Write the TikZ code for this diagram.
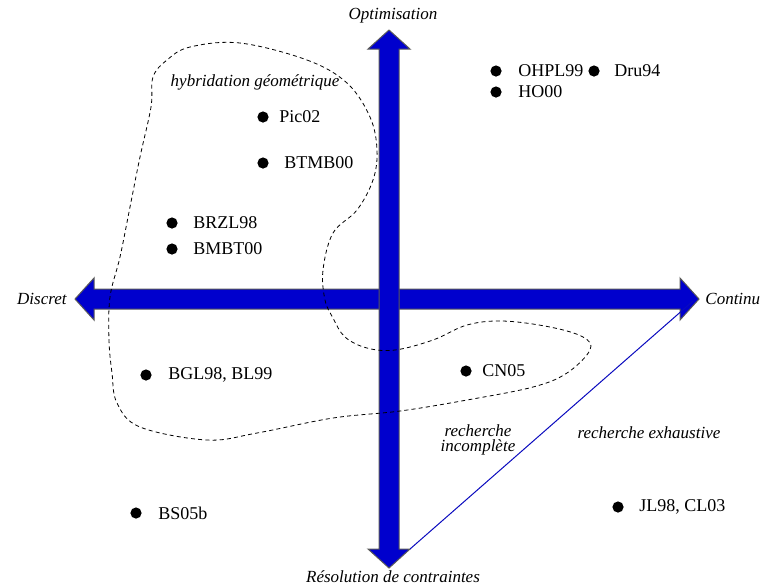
\documentclass[tikz,border=0pt]{standalone}
\usepackage{fontspec}
\setmainfont{Liberation Serif}
\usetikzlibrary{positioning}
\definecolor{axisblue}{RGB}{0,0,205}
\definecolor{lineblue}{RGB}{10,10,190}
\tikzset{
  axis/.style={draw=black!65, line width=0.5pt, fill=axisblue, line join=miter},
  pt/.style={circle, fill=black, inner sep=0pt, minimum size=5.6pt},
  lbl/.style={inner sep=0pt, font=\fontsize{9}{11}\selectfont},
  pole/.style={inner sep=0pt, font=\fontsize{8.5}{7.5}\selectfont\itshape, align=center},
  zone/.style={dash pattern=on 2pt off 1.6pt, line width=0.4pt}
}

\begin{document}
\begin{tikzpicture}[x=0.5pt,y=-0.5pt]
    \useasboundingbox (0,0) rectangle (763,586);

    % Horizontal axis: discret <-> continu.
    \draw[axis] (75,299) -- (94,278) -- (94,289) -- (680,289) -- (680,278)
        -- (699,299) -- (680,320) -- (680,309) -- (94,309) -- (94,320) -- cycle;

    % Vertical axis: optimisation <-> resolution de contraintes.
    \draw[axis] (389,30) -- (410,49) -- (399,49) -- (399,549) -- (410,549)
        -- (389,568) -- (368,549) -- (379,549) -- (379,49) -- (368,49) -- cycle;
    \coordinate (split) at (410,549);
    \coordinate (cont) at (693,301);

    % Axis names.
    \node[pole] (opt) at (393,16) {Optimisation};
    \node[pole, anchor=east] (disc) at (67,299) {Discret};
    \node[pole, anchor=west] (contl) at (705,299) {Continu};
    \node[pole] (res) at (393,577) {Résolution de contraintes};

    % Border between the two kinds of search.
    \draw[lineblue, line width=0.5pt] (split) -- (cont);
    \node[pole] (incomp) at (478,440) {recherche\\incomplète};
    \node[pole] (exhaus) at (649,433) {recherche exhaustive};

    % Works.
    \node[pt] (pic) at (263,117) {};
    \node[lbl, right=5pt of pic] (picl) {Pic02};
    \node[pt] (btmb) at (263,163) {};
    \node[lbl, right=7.5pt of btmb] (btmbl) {BTMB00};
    \node[pt] (brzl) at (172,223) {};
    \node[lbl, right=7.5pt of brzl] (brzll) {BRZL98};
    \node[pt] (bmbt) at (172,249) {};
    \node[lbl, right=7.5pt of bmbt] (bmbtl) {BMBT00};
    \node[pt] (bgl) at (146,375) {};
    \node[lbl, right=8pt of bgl] (bgll) {BGL98, BL99};
    \node[pt] (cn) at (466,371) {};
    \node[lbl, right=5pt of cn] (cnl) {CN05};
    \node[pt] (ohpl) at (496,71) {};
    \node[lbl, right=8pt of ohpl] (ohpll) {OHPL99};
    \node[pt] (ho) at (496,92) {};
    \node[lbl, right=8pt of ho] (hol) {HO00};
    \node[pt] (dru) at (594,71) {};
    \node[lbl, right=7pt of dru] (drul) {Dru94};
    \node[pt] (bs) at (136,513) {};
    \node[lbl, right=8pt of bs] (bsl) {BS05b};
    \node[pt] (jl) at (618,507) {};
    \node[lbl, right=7.5pt of jl] (jll) {JL98, CL03};

    % Zone of geometric hybridation.
    \draw[zone] plot[smooth cycle, tension=0.6] coordinates {
        (240,43) (307,60) (347,83) (370,117) (377,150) (373,180) (357,210)
        (333,233) (323,270) (325,300) (333,318) (345,337) (367,348) (395,350)
        (433,340) (467,325) (503,321) (550,327) (583,337) (590,350) (567,373)
        (533,387) (467,400) (400,411) (333,418) (257,433) (207,440) (140,427)
        (117,403) (112,373) (109,340) (110,297) (120,257) (130,207) (140,157)
        (151,107) (153,77) (167,60) (190,47)};
    \node[pole] (hyb) at (255,82) {hybridation géométrique};

\end{tikzpicture}
\end{document}
